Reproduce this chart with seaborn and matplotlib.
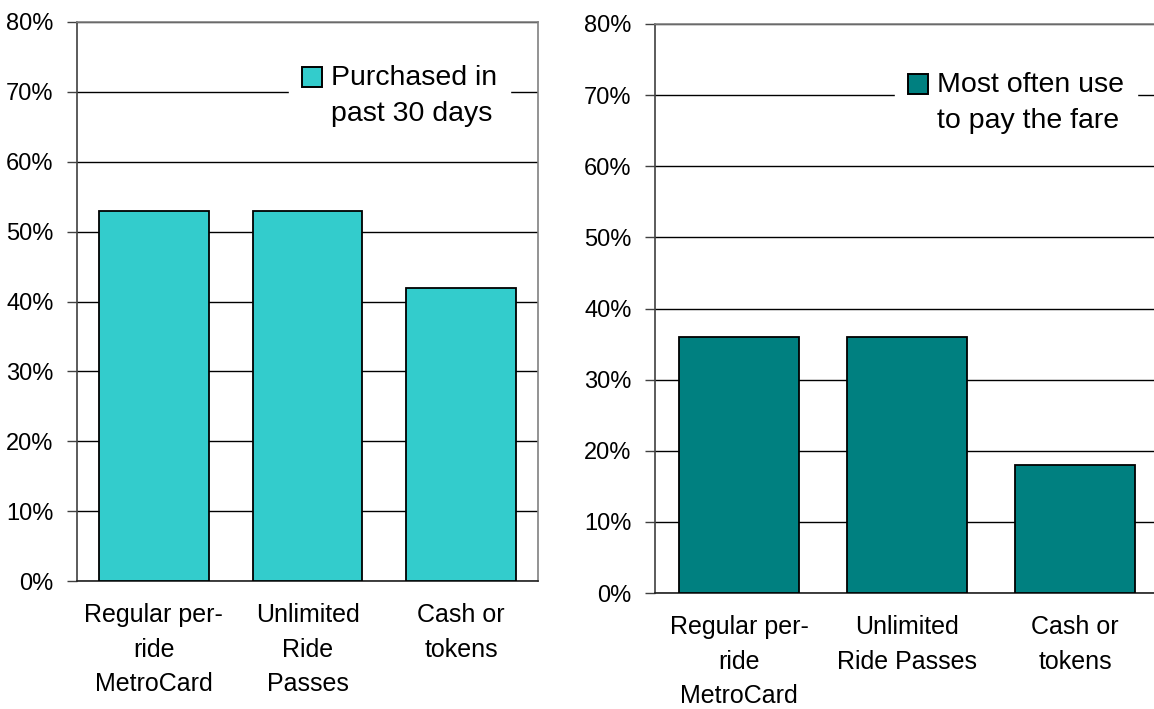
import matplotlib
matplotlib.use("Agg")
import matplotlib.pyplot as plt
import matplotlib.patches as mpatches
from matplotlib.legend_handler import HandlerPatch
import seaborn as sns
from matplotlib.ticker import FuncFormatter

# data
left_cats = ["Regular per-\nride\nMetroCard", "Unlimited\nRide\nPasses", "Cash or\ntokens"]
left_vals = [53, 53, 42]
left_label = "Purchased in\npast 30 days"

right_cats = ["Regular per-\nride\nMetroCard", "Unlimited\nRide Passes", "Cash or\ntokens"]
right_vals = [36, 36, 18]
right_label = "Most often use\nto pay the fare"

sns.set_style("white")
plt.rcParams['font.family'] = ['Liberation Sans', 'DejaVu Sans']
plt.rcParams['text.color'] = 'black'
plt.rcParams['xtick.color'] = 'black'
plt.rcParams['ytick.color'] = 'black'

W, H = 1154, 709
fig = plt.figure(figsize=(W / 100, H / 100), dpi=100)

# axes placed in pixel terms
ax1 = fig.add_axes([77 / W, 1 - 581 / H, (538 - 77) / W, (581 - 22) / H])
ax2 = fig.add_axes([655 / W, 1 - 593 / H, 504 / W, (593 - 24) / H])


def top_square(legend, orig_handle, xdescent, ydescent, width, height, fontsize):
    # keep the marker next to the first line of the label
    return mpatches.Rectangle((-xdescent, -ydescent + 13.5), width, height)


def style(ax, cats, vals, color, label, leg_xy):
    sns.barplot(x=cats, y=vals, color=color, edgecolor="black", linewidth=1.3,
                width=0.715, saturation=1, ax=ax, zorder=3)
    ax.set_ylim(0, 80)
    ax.set_xlim(-0.5, 2.5)
    ax.set_yticks(range(0, 81, 10))
    ax.yaxis.set_major_formatter(FuncFormatter(lambda v, p: f"{int(v)}%"))
    ax.set_xticks(range(len(cats)))
    ax.set_xticklabels(cats, linespacing=1.55, fontsize=18)
    ax.set_axisbelow(True)
    ax.grid(axis="y", color="black", linewidth=1.0)
    ax.grid(axis="x", visible=False)
    ax.tick_params(axis="y", direction="out", length=7, width=1, color="#404040",
                   labelsize=17, pad=10, left=True)
    ax.tick_params(axis="x", length=0, pad=16)
    ax.spines["left"].set_color("#404040")
    ax.spines["bottom"].set_color("#202020")
    ax.spines["top"].set_color("#808080")
    ax.spines["right"].set_color("#808080")
    for s in ax.spines.values():
        s.set_linewidth(1.2)
    ax.set_xlabel("")
    ax.set_ylabel("")
    handle = mpatches.Patch(facecolor=color, edgecolor="black", linewidth=1.4, label=label)
    leg = ax.legend(handles=[handle], loc="upper left",
                    bbox_to_anchor=(leg_xy[0] / W, 1 - leg_xy[1] / H),
                    bbox_transform=fig.transFigure,
                    handler_map={mpatches.Patch: HandlerPatch(patch_func=top_square)},
                    frameon=True, fontsize=20.5, handlelength=0.7, handleheight=0.7,
                    handletextpad=0.33, borderpad=0.45, borderaxespad=0)
    for t in leg.get_texts():
        t.set_linespacing(1.5)
    leg.get_frame().set_facecolor("white")
    leg.get_frame().set_edgecolor("white")
    leg.get_frame().set_alpha(1)
    leg.set_zorder(5)


style(ax1, left_cats, left_vals, "#33CCCC", left_label, (289, 52))
style(ax2, right_cats, right_vals, "#008080", right_label, (895, 59))
ax2.spines["right"].set_visible(False)

fig.savefig("out.png", dpi=100)
